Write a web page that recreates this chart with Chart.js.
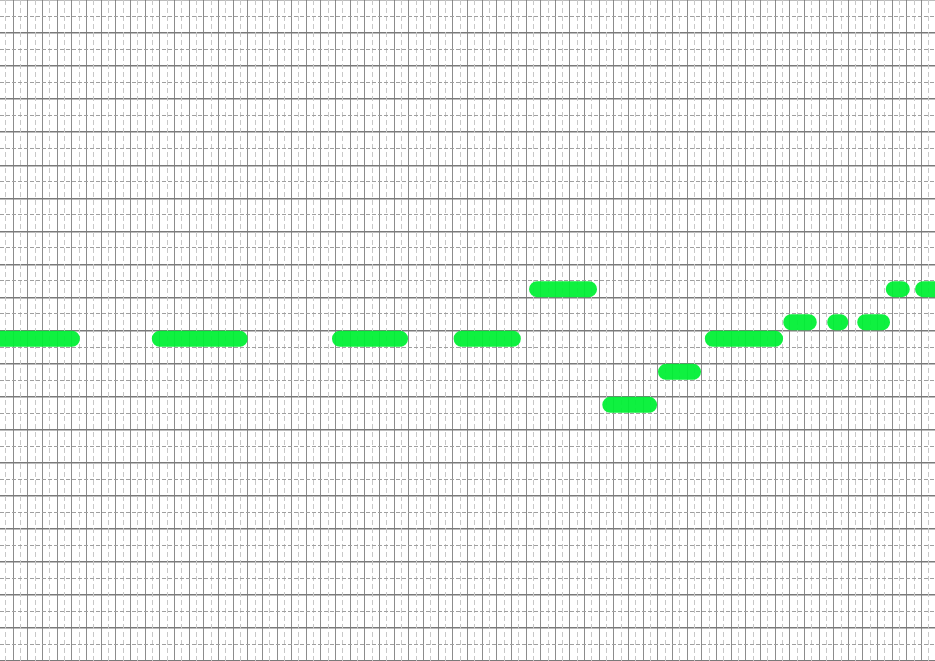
<!DOCTYPE html>
<html>
<head>
<meta charset="utf-8">
<script src="https://cdn.jsdelivr.net/npm/chart.js@4"></script>
<style>
html,body{margin:0;padding:0;background:#fff;overflow:hidden;}
#wrap{width:935px;height:661px;}
</style>
</head>
<body>
<div id="wrap"><canvas id="c" width="935" height="661"></canvas></div>
<script>
// Note segments (columns on the grid) and their lanes (rows)
const segStart = [-1.6, 10.0, 22.3, 30.6, 35.75, 40.75, 44.55, 47.75, 53.1, 56.1, 58.15, 60.1, 62.1];
const segEnd   = [4.0, 15.45, 26.4, 34.1, 39.3, 43.4, 46.4, 52.0, 54.3, 56.45, 59.3, 60.65, 63.6];
const segLane  = [9.75, 9.75, 9.75, 9.75, 11.25, 7.75, 8.75, 9.75, 10.25, 10.25, 10.25, 11.25, 11.25];

const xMin = -0.908, xMax = 62.915;
const yMin = 0, yMax = 20;

const points = [];
for (let i = 0; i < segStart.length; i++) {
  points.push({x: segStart[i], y: segLane[i]});
  points.push({x: segEnd[i], y: segLane[i]});
  points.push({x: (segEnd[i] + (segStart[i + 1] ?? segEnd[i] + 1)) / 2, y: null});
}

function intTicks(scale) {
  const t = [];
  for (let v = Math.ceil(scale.min - 1e-9); v <= scale.max + 1e-9; v++) t.push({value: v});
  scale.ticks = t;
}

function gridScale(axis, min, max, color, width, dash) {
  return {
    type: 'linear', axis: axis, position: axis === 'x' ? 'bottom' : 'left',
    min: min, max: max,
    afterBuildTicks: intTicks,
    ticks: {display: false},
    grid: {display: true, color: color, lineWidth: width, drawTicks: false, tickLength: 0},
    border: {display: false, dash: dash},
    title: {display: false}
  };
}

new Chart(document.getElementById('c'), {
  type: 'scatter',
  data: {
    datasets: [{
      data: points,
      xAxisID: 'x',
      yAxisID: 'y',
      showLine: true,
      spanGaps: false,
      borderColor: 'rgba(0,240,52,0.94)',
      borderWidth: 16,
      borderCapStyle: 'round',
      borderJoinStyle: 'round',
      pointRadius: 0,
      pointHoverRadius: 0,
      tension: 0
    }]
  },
  options: {
    responsive: false,
    animation: false,
    layout: {padding: 0},
    plugins: {legend: {display: false}, tooltip: {enabled: false}},
    scales: {
      x: gridScale('x', xMin, xMax, '#8c8c8c', 1, []),
      y: gridScale('y', yMin, yMax, '#7a7a7a', 1.5, []),
      x2: gridScale('x', xMin - 0.5, xMax - 0.5, '#c8c8c8', 1, [5, 3]),
      y2: gridScale('y', yMin - 0.5, yMax - 0.5, '#a0a0a0', 1, [4, 2])
    }
  }
});
</script>
</body>
</html>
